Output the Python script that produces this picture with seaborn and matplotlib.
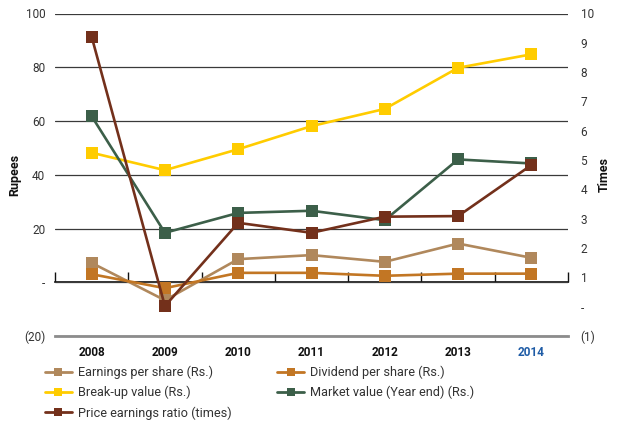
import matplotlib
matplotlib.use("Agg")
import matplotlib.pyplot as plt
from matplotlib.lines import Line2D
import seaborn as sns
import pandas as pd

# Per-share figures, 2008-2014
years = [2008, 2009, 2010, 2011, 2012, 2013, 2014]
eps = [7.2, -6.7, 8.6, 10.1, 7.6, 14.4, 9.1]
dps = [3.0, -2.2, 3.5, 3.5, 2.4, 3.2, 3.2]
breakup = [48.2, 41.7, 49.5, 58.1, 64.5, 79.8, 84.8]
market = [61.8, 18.4, 25.8, 26.6, 23.1, 45.7, 44.2]
pe_ratio = [9.21, 0.02, 2.86, 2.52, 3.07, 3.09, 4.83]

series_names = ["Earnings per share (Rs.)", "Dividend per share (Rs.)",
                "Break-up value (Rs.)", "Market value (Year end) (Rs.)"]
pe_name = "Price earnings ratio (times)"
colors = {
    series_names[0]: "#B0885C",
    series_names[1]: "#C27624",
    series_names[2]: "#FFCC00",
    series_names[3]: "#3C5F49",
    pe_name: "#73301B",
}

left_ticks = [-20, 0, 20, 40, 60, 80, 100]
left_labels = ["(20)", "-", "20", "40", "60", "80", "100"]
right_ticks = list(range(-1, 11))
right_labels = ["(1)", "-"] + [str(v) for v in range(1, 11)]

rupees = pd.DataFrame({
    "year": years * 4,
    "value": eps + dps + breakup + market,
    "series": [n for n in series_names for _ in years],
})
times = pd.DataFrame({"year": years, "value": pe_ratio, "series": pe_name})

sns.set_theme(style="white")
plt.rcParams["font.family"] = ["Roboto", "DejaVu Sans"]
text_col = "#333333"

fig = plt.figure(figsize=(6.2, 4.22), dpi=100)
ax = fig.add_axes([55 / 620, 1 - 336 / 422, 513 / 620, (336 - 13.5) / 422])

line_kw = dict(marker="s", markersize=8.5, markeredgewidth=0, linewidth=1.9)
sns.lineplot(data=rupees, x="year", y="value", hue="series",
             hue_order=series_names, palette=colors, legend=False, ax=ax,
             **line_kw)

ax2 = ax.twinx()
sns.lineplot(data=times, x="year", y="value", color=colors[pe_name],
             legend=False, ax=ax2, **line_kw)

# Left (Rupees) axis
ax.set_ylim(-20, 100)
ax.set_yticks(left_ticks)
ax.set_yticklabels(left_labels)
ax.set_xlim(years[0] - 0.5, years[-1] + 0.5)
ax.set_xticks(years)
ax.set_xticklabels([str(y) for y in years], fontweight="bold", fontsize=8.5)
ax.get_xticklabels()[-1].set_color("#1F5CA6")
for lab in ax.get_xticklabels()[:-1]:
    lab.set_color("#111111")
ax.tick_params(axis="x", length=0, pad=7)
ax.tick_params(axis="y", length=0, pad=7, labelsize=8.5, labelcolor=text_col)
ax.set_xlabel("")
ax.set_ylabel("Rupees", fontweight="bold", fontsize=9, color="#111111", labelpad=2)
ax.grid(axis="y", color="#3a3a3a", linewidth=0.9)
ax.grid(axis="x", visible=False)
ax.set_axisbelow(True)
for side in ["top", "left", "right"]:
    ax.spines[side].set_visible(False)
ax.spines["bottom"].set_color("#8c8c8c")
ax.spines["bottom"].set_linewidth(2)

# Right (Times) axis
ax2.set_ylim(-1, 10)
ax2.set_yticks(right_ticks)
ax2.set_yticklabels(right_labels)
ax2.tick_params(axis="y", length=0, pad=9, labelsize=8.5, labelcolor=text_col)
ax2.set_ylabel("Times", fontweight="bold", fontsize=9, color="#111111",
               rotation=90, labelpad=2)
ax2.grid(False)
for side in ["top", "left", "right", "bottom"]:
    ax2.spines[side].set_visible(False)

# Zero line with category boundary ticks
zero_frac = (0 - (-20)) / 120
zx = ax.secondary_xaxis(zero_frac)
zx.set_xticks([y - 0.5 for y in years] + [years[-1] + 0.5])
zx.set_xticklabels([])
zx.tick_params(direction="in", length=7, width=1, color="#111111")
zx.spines["bottom"].set_color("#111111")
zx.spines["bottom"].set_linewidth(1.2)

# Legend: two columns filled row by row
order = [series_names[0], series_names[2], pe_name, series_names[1], series_names[3]]
handles = [Line2D([], [], color=colors[n], marker="s", markersize=5.5,
                  markeredgewidth=0, linewidth=2) for n in order]
fig.legend(handles, order, loc="upper left", bbox_to_anchor=(45 / 620, 1 - 366 / 422),
           ncol=2, frameon=False, fontsize=9.2, handlelength=2.1,
           handletextpad=0.45, labelspacing=0.52, columnspacing=3.6,
           borderpad=0, borderaxespad=0, labelcolor=text_col)

fig.savefig("out.png", dpi=100)
